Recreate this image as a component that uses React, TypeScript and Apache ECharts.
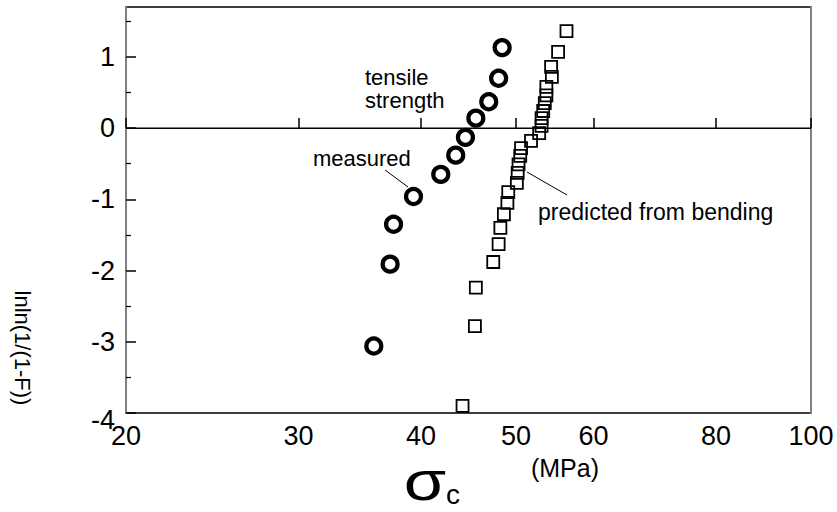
import React, { useEffect, useRef } from "react";
import * as echarts from "echarts";

const xTicks = [20, 30, 40, 50, 60, 80, 100];
const yTicks = [-4, -3, -2, -1, 0, 1];
const yMinorTicks = [-3.5, -2.5, -1.5, -0.5, 0.5, 1.5];

const measuredX = [35.8, 37.2, 37.5, 39.3, 41.9, 43.4, 44.4, 45.5, 46.9, 48.0, 48.4];
const measuredY = [-3.06, -1.91, -1.35, -0.96, -0.65, -0.38, -0.13, 0.14, 0.37, 0.7, 1.13];

const predictedX = [44.1, 45.4, 45.5, 47.4, 48.0, 48.2, 48.6, 49.0, 49.1, 50.1, 50.2, 50.3, 50.5, 50.6, 51.8, 52.8, 53.1, 53.1, 53.3, 53.5, 53.7, 53.7, 54.4, 54.3, 55.2, 56.3];
const predictedY = [-3.9, -2.78, -2.24, -1.88, -1.63, -1.4, -1.21, -1.05, -0.9, -0.77, -0.63, -0.51, -0.39, -0.28, -0.18, -0.07, 0.03, 0.14, 0.24, 0.35, 0.46, 0.58, 0.72, 0.86, 1.07, 1.36];

const FONT = '"Liberation Sans", Arial, Helvetica, sans-serif';

export default function App() {
  const ref = useRef<HTMLDivElement>(null);
  useEffect(() => {
    if (!ref.current) return;
    const chart = echarts.init(ref.current, undefined, { renderer: "svg" });
    const yCommon = { type: "value", min: -4, max: 1.7, splitLine: { show: false } };
    chart.setOption({
      animation: false,
      backgroundColor: "#fff",
      grid: {
        left: 126,
        right: 26,
        top: 7,
        bottom: 99,
        containLabel: false,
        show: true,
        borderColor: "#000",
        borderWidth: 1.5,
        backgroundColor: "rgba(0,0,0,0)",
      },
      xAxis: [
        {
          type: "log",
          logBase: 10,
          min: 20,
          max: 100,
          position: "bottom",
          splitLine: { show: false },
          axisLine: { show: true, lineStyle: { color: "#808080", width: 2 } },
          axisTick: { show: true, inside: true, length: 10, customValues: xTicks, lineStyle: { color: "#000", width: 1.5 } },
          axisLabel: {
            show: true,
            customValues: xTicks,
            margin: 9,
            fontSize: 27,
            fontFamily: FONT,
            color: "#000",
            formatter: (v: number) => String(Math.round(v)),
          },
          minorTick: { show: false },
        },
      ],
      yAxis: [
        {
          ...yCommon,
          position: "left",
          axisLine: { show: true, lineStyle: { color: "#808080", width: 2 } },
          axisTick: { show: true, inside: true, length: 10, customValues: yTicks, lineStyle: { color: "#000", width: 1.5 } },
          axisLabel: {
            show: true,
            customValues: yTicks,
            margin: 11,
            fontSize: 27,
            fontFamily: FONT,
            color: "#000",
            formatter: (v: number) => (v === -4 ? "{low|-4}" : String(v)),
            rich: { low: { fontSize: 27, fontFamily: FONT, color: "#000", padding: [14, 0, 0, 0] } },
          },
        },
        {
          ...yCommon,
          position: "left",
          axisLine: { show: false },
          axisTick: { show: true, inside: true, length: 5, customValues: yMinorTicks, lineStyle: { color: "#000", width: 1.2 } },
          axisLabel: { show: false },
        },
        {
          ...yCommon,
          position: "right",
          axisLine: { show: true, lineStyle: { color: "#808080", width: 2 } },
          axisTick: { show: false },
          axisLabel: { show: false },
        },
      ],
      series: [
        {
          name: "predicted from bending",
          type: "scatter",
          xAxisIndex: 0,
          yAxisIndex: 0,
          symbol: "rect",
          symbolSize: 12,
          itemStyle: { color: "rgba(255,255,255,0)", borderColor: "#000", borderWidth: 1.8, opacity: 1 },
          data: predictedX.map((x, i) => [x, predictedY[i]]),
          markLine: {
            silent: true,
            symbol: ["none", "none"],
            label: { show: false },
            lineStyle: { color: "#000", width: 1, type: "solid", opacity: 1 },
            data: [{ yAxis: 0 }],
          },
        },
        {
          name: "measured",
          type: "scatter",
          xAxisIndex: 0,
          yAxisIndex: 0,
          symbol: "circle",
          symbolSize: 15,
          itemStyle: { color: "rgba(255,255,255,0)", borderColor: "#000", borderWidth: 4.2, opacity: 1 },
          data: measuredX.map((x, i) => [x, measuredY[i]]),
        },
      ],
      graphic: [
        {
          type: "text",
          x: 22,
          y: 348,
          rotation: -Math.PI / 2,
          style: { text: "lnln(1/(1-F))", font: `22px ${FONT}`, fill: "#000", align: "center", verticalAlign: "middle" },
        },
        {
          type: "text",
          x: 425,
          y: 481,
          scaleX: 1.25,
          style: { text: "σ", font: `55px ${FONT}`, fill: "#000", align: "center", verticalAlign: "middle" },
        },
        {
          type: "text",
          x: 446,
          y: 494,
          style: { text: "c", font: `28px ${FONT}`, fill: "#000", align: "left", verticalAlign: "middle" },
        },
        {
          type: "text",
          x: 565,
          y: 468,
          style: { text: "(MPa)", font: `25px ${FONT}`, fill: "#000", align: "center", verticalAlign: "middle" },
        },
        {
          type: "text",
          x: 365,
          y: 77,
          style: { text: "tensile", font: `22px ${FONT}`, fill: "#000", align: "left", verticalAlign: "middle" },
        },
        {
          type: "text",
          x: 365,
          y: 100,
          style: { text: "strength", font: `22px ${FONT}`, fill: "#000", align: "left", verticalAlign: "middle" },
        },
        {
          type: "text",
          x: 313,
          y: 158,
          style: { text: "measured", font: `22px ${FONT}`, fill: "#000", align: "left", verticalAlign: "middle" },
        },
        {
          type: "line",
          shape: { x1: 385, y1: 170, x2: 408, y2: 187 },
          style: { stroke: "#000", lineWidth: 1 },
        },
        {
          type: "text",
          x: 538,
          y: 212,
          style: { text: "predicted from bending", font: `23px ${FONT}`, fill: "#000", align: "left", verticalAlign: "middle" },
        },
        {
          type: "line",
          shape: { x1: 527, y1: 172, x2: 567, y2: 195 },
          style: { stroke: "#000", lineWidth: 1 },
        },
      ],
    });
    return () => chart.dispose();
  }, []);
  return <div ref={ref} style={{ width: 837, height: 512, position: "absolute", left: 0, top: 0 }} />;
}
